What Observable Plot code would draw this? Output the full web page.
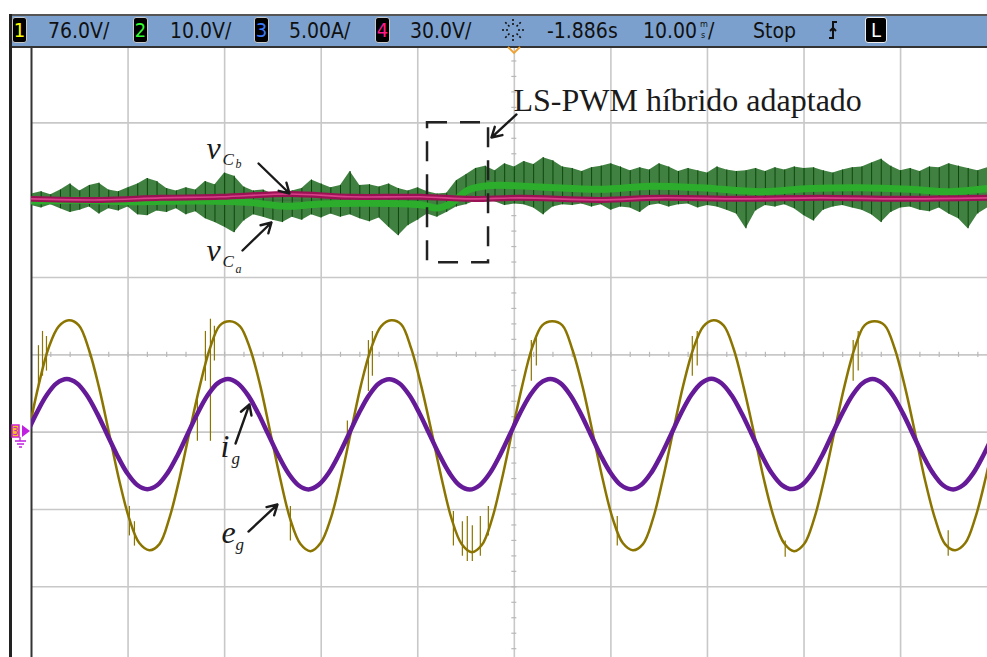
<!DOCTYPE html>
<html><head><meta charset="utf-8">
<script src="https://cdn.jsdelivr.net/npm/d3@7"></script>
<script src="https://cdn.jsdelivr.net/npm/@observablehq/plot@0.6"></script>
<style>
body{margin:0;background:#fff;}
#wrap{position:relative;width:987px;height:657px;overflow:hidden;background:#fff;}
#chart{position:absolute;left:0;top:0;}
#bar{position:absolute;left:10px;top:14px;width:977px;height:30px;background:#7ba0cd;border-top:2px solid #555;border-bottom:2px solid #333;}
#lborder{position:absolute;left:9px;top:14px;width:3px;height:643px;background:#222;}
.hd{position:absolute;top:16px;height:30px;line-height:30px;font-family:"DejaVu Sans Condensed","Liberation Sans Narrow","DejaVu Sans",sans-serif;font-size:21px;color:#111;white-space:nowrap;}
.sm{position:absolute;height:10px;line-height:10px;font-family:"DejaVu Sans Condensed","DejaVu Sans",sans-serif;font-size:9px;color:#111;}
.box{position:absolute;top:17px;width:13px;height:24px;background:#000;border:1.5px solid #c8c8c8;border-radius:3px;font-family:"DejaVu Sans Condensed","DejaVu Sans",sans-serif;font-size:20px;line-height:24px;text-align:center;}
</style></head>
<body>
<div id="wrap">
  <div id="chart"></div>
  <div id="bar"></div>
  <div id="lborder"></div>
  <div id="hdr"></div>
  <svg id="deco" width="987" height="657" style="position:absolute;left:0;top:0;pointer-events:none"></svg>
</div>
<script>
// ---- header (oscilloscope status line) ----
const chanNames = ["1", "2", "3", "4"];
const chanScales = ["76.0V/", "10.0V/", "5.00A/", "30.0V/"];
const chanColors = ["#ffff00", "#33ff33", "#3a7cff", "#ff1a8c"];
const timeOffset = "-1.886s";
const timeScale = "10.00";
const runState = "Stop";

// ---- time base: ms, 10 ms/div; vertical in divisions ----
// e_g (channel 1, 76 V/div, reference at -1 div), 16 samples per 60 Hz cycle
const egT0 = -50.31, egDt = 1.0431;
const egV = [
  0, 46, 83, 104, 110, 105, 81, 44, -1, -47, -85, -109, -116, -110, -84, -45,
  1, 45, 82, 105, 109, 104, 82, 46, 0, -46, -86, -110, -117, -109, -85, -46,
  0, 46, 82, 104, 110, 106, 82, 45, 1, -45, -85, -110, -118, -111, -86, -46,
  0, 45, 83, 105, 109, 105, 81, 45, 0, -46, -85, -109, -116, -110, -85, -45,
  1, 46, 82, 104, 110, 105, 82, 44, 0, -46, -84, -109, -117, -110, -85, -46,
  0, 45, 82, 105, 109, 105, 82, 45, 0, -47, -85, -110, -116, -109, -84, -46,
  0
];
// i_g (channel 3, 5 A/div, reference at -1 div)
const igT0 = -50.52, igDt = 1.0431;
const igA = [
  -0.13, 1.23, 2.39, 3.16, 3.43, 3.16, 2.39, 1.23, -0.13, -1.49, -2.65, -3.42, -3.69, -3.42, -2.65, -1.49,
  -0.12, 1.24, 2.40, 3.17, 3.44, 3.15, 2.38, 1.22, -0.14, -1.50, -2.66, -3.43, -3.70, -3.41, -2.64, -1.48,
  -0.13, 1.22, 2.38, 3.15, 3.42, 3.16, 2.40, 1.24, -0.12, -1.48, -2.65, -3.44, -3.71, -3.43, -2.66, -1.50,
  -0.14, 1.23, 2.39, 3.16, 3.43, 3.17, 2.39, 1.23, -0.13, -1.49, -2.64, -3.42, -3.69, -3.42, -2.65, -1.49,
  -0.13, 1.24, 2.40, 3.17, 3.45, 3.16, 2.38, 1.22, -0.13, -1.50, -2.66, -3.42, -3.68, -3.41, -2.64, -1.49,
  -0.12, 1.23, 2.39, 3.16, 3.43, 3.15, 2.39, 1.23, -0.13, -1.49, -2.65, -3.43, -3.70, -3.42, -2.65, -1.49,
  -0.13
];
// noise spikes on e_g: time (ms), top (V), bottom (V)
const egSpikeT  = [-49.28,-48.86,-48.45,-39.86,-39.34,-32.82,-31.99,-31.47,-31.06,-23.19,-17.29,-15.11,-14.70,-6.31,-5.38,-4.87,-4.35,-3.52,-2.69,1.76,2.28,10.66,18.43,18.94,28.05,35.09,35.61,44.93];
const egSpikeHi = [85,99,94,-73,-88,35,99,111,104,-73,11,90,99,-78,-88,-83,-92,-83,-73,90,94,-83,94,99,-107,90,99,-97];
const egSpikeLo = [45,55,60,-102,-112,-9,50,-9,70,-107,-14,40,55,-112,-122,-127,-127,-122,-102,50,65,-112,55,65,-123,50,60,-122];

// v_Ca (channel 2, 10 V/div, reference at +2 div): envelope sampled every 1 ms from -50 ms
const vcaHi = [0.8,1.1,0.7,1.3,2.1,1.2,1.9,2.2,1.3,1.1, 1.6,2.1,2.8,2.4,1.5,1.2,1.6,1.3,2.4,2.0,
  3.5,3.1,1.7,1.2,1.3,0.8,0.9,1.2,1.5,2.6, 2.1,1.6,1.9,3.7,1.9,2.0,1.7,2.1,1.5,1.2,
  1.6,1.1,0.8,0.9,2.5,3.3,4.1,4.4,3.8,4.7, 4.3,5.0,4.6,5.5,5.1,4.3,4.1,3.7,4.2,4.4,
  4.7,4.3,3.8,4.2,3.9,4.7,4.3,3.7,4.1,3.8, 3.5,4.3,3.9,3.7,3.8,4.1,3.7,4.2,3.9,4.3,
  4.1,4.2,3.8,3.5,3.9,4.2,4.3,4.8,5.3,4.4, 3.8,4.1,3.7,4.3,4.2,4.7,4.4,4.1,3.8,4.2];
const vcaLo = [-0.7,-1.0,-0.6,-1.1,-1.6,-1.3,-0.9,-1.8,-1.1,-1.4, -0.9,-1.9,-2.0,-1.4,-1.6,-1.1,-1.9,-1.5,-2.4,-2.9,
  -3.5,-4.2,-2.7,-1.9,-2.2,-2.6,-2.9,-2.2,-2.6,-1.9, -2.3,-1.8,-2.2,-1.9,-2.4,-2.8,-2.3,-3.5,-4.6,-3.3,
  -2.6,-1.8,-2.2,-1.6,-0.9,-0.6,-0.1,0.0,-0.2,-0.7, -0.5,-0.6,-1.0,-1.9,-0.9,-0.6,-0.7,-0.5,-0.9,-0.6,
  -1.3,-0.9,-1.0,-1.6,-0.7,-0.5,-0.9,-0.6,-0.5,-1.0, -0.7,-0.9,-1.3,-1.8,-3.7,-1.4,-0.7,-0.9,-0.6,-1.1,
  -2.0,-2.7,-1.3,-0.9,-0.7,-1.0,-1.3,-1.9,-2.9,-1.6, -1.0,-0.9,-1.3,-1.5,-1.0,-1.8,-2.4,-3.7,-1.8,-1.0];
const vcaMidT = [-50,-44.9,-39.8,-32.5,-27.3,-23.7,-20.1,-14.9,-9.7,-7.9,-6.4,-4.8,-2.5,2.7,8.9,14.1,19.3,25.5,30.6,35.8,41.0,45.1,49.0];
const vcaMidV = [-0.1,0.0,-0.2,-0.1,-0.3,-0.8,-0.5,-0.4,-0.6,-1.0,-0.3,1.3,1.9,1.7,1.4,1.8,1.6,1.1,1.5,1.6,1.4,1.1,1.5];
// v_Cb (channel 4, 30 V/div, reference at +2 div)
const vcbT = [-50,-42.8,-36.6,-30.4,-23.2,-17.0,-9.7,-4.5,0.6,8.9,15.1,23.4,31.7,39.9,49.0];
const vcbV = [0.5,0.1,0.9,1.3,2.4,1.3,1.3,0.5,0.9,0.1,0.9,0.5,0.9,0.5,0.9];

// grid
const gridT = [-40, -30, -20, -10, 0, 10, 20, 30, 40];
const gridD = [-3, -2, -1, 0, 1, 2, 3];

// annotations (data units: ms, divisions)
const labelLS = "LS-PWM híbrido adaptado";
const arrows = [
  {x1: 0.22, y1: 3.108, x2: -2.37, y2: 2.81},
  {x1: -26.49, y1: 2.474, x2: -23.28, y2: 2.086},
  {x1: -28.15, y1: 1.349, x2: -25.15, y2: 1.711},
  {x1: -28.87, y1: -1.147, x2: -27.43, y2: -0.642},
  {x1: -27.53, y1: -2.285, x2: -24.53, y2: -1.936}
];
const mathLabels = [
  {x: -31.88, y: 2.671, s: "v", f: 32}, {x: -30.22, y: 2.531, s: "C", f: 17}, {x: -28.88, y: 2.472, s: "b", f: 12},
  {x: -31.88, y: 1.352, s: "v", f: 32}, {x: -30.22, y: 1.200, s: "C", f: 17}, {x: -28.88, y: 1.114, s: "a", f: 12},
  {x: -30.43, y: -1.195, s: "i", f: 32}, {x: -29.29, y: -1.335, s: "g", f: 17},
  {x: -30.32, y: -2.295, s: "e", f: 32}, {x: -28.88, y: -2.447, s: "g", f: 17}
];
const dashBox = [{x1: -8.99, x2: -2.67, y1: 1.19, y2: 3.0}];

// ---- build tables ----
const eg = egV.map((v, i) => ({t: egT0 + i * egDt, v}));
const ig = igA.map((a, i) => ({t: igT0 + i * igDt, a}));
const egSp = egSpikeT.map((t, i) => ({t, hi: egSpikeHi[i], lo: egSpikeLo[i]}));
const vca = vcaHi.map((h, i) => ({t: -50 + i, hi: h, lo: vcaLo[i]}));
const vcaMid = vcaMidT.map((t, i) => ({t, v: vcaMidV[i]}));
const vcb = vcbT.map((t, i) => ({t, v: vcbV[i]}));
const minorT = d3.range(-50, 49.01, 2);
const minorD = d3.range(-3.8, 4.0, 0.2);

const serif = "'Liberation Serif','DejaVu Serif',serif";
const chart = Plot.plot({
  width: 987, height: 657,
  marginLeft: 31, marginRight: 0, marginTop: 45, marginBottom: 0,
  x: {domain: [-50, 49], axis: null},
  y: {domain: [-3.914, 4], axis: null},
  style: {background: "transparent", overflow: "visible"},
  marks: [
    Plot.ruleX(gridT, {stroke: "#c8c8c8", strokeWidth: 1.6}),
    Plot.ruleY(gridD, {stroke: "#c8c8c8", strokeWidth: 1.6}),
    Plot.ruleX(minorT, {y1: -0.033, y2: 0.033, stroke: "#b8b8b8", strokeWidth: 1.2}),
    Plot.ruleY(minorD, {x1: -0.26, x2: 0.26, stroke: "#b8b8b8", strokeWidth: 1.2}),
    Plot.ruleX([-50], {stroke: "#333", strokeWidth: 2}),
    // v_Ca
    Plot.areaY(vca, {x: "t", y1: d => 2 + d.lo / 10, y2: d => 2 + d.hi / 10, fill: "#1f6a1f", fillOpacity: 0.85, clip: true}),
    Plot.ruleX(vca, {x: "t", y1: d => 2 + d.lo / 10, y2: d => 2 + d.hi / 10, stroke: "#0d470d", strokeWidth: 1, clip: true}),
    Plot.line(vcaMid, {x: "t", y: d => 2 + d.v / 10, stroke: "#2cae2c", strokeWidth: 7, curve: "catmull-rom", clip: true}),
    // v_Cb
    Plot.line(vcb, {x: "t", y: d => 2 + d.v / 30, stroke: "#9a1254", strokeWidth: 6, curve: "catmull-rom", clip: true}),
    Plot.line(vcb, {x: "t", y: d => 2 + d.v / 30, stroke: "#d8408a", strokeWidth: 1.6, curve: "catmull-rom", clip: true}),
    // e_g
    Plot.ruleX(egSp, {x: "t", y1: d => -1 + d.lo / 76, y2: d => -1 + d.hi / 76, stroke: "#8b7500", strokeWidth: 1.2, clip: true}),
    Plot.line(eg, {x: "t", y: d => -1 + d.v / 76, stroke: "#8b7500", strokeWidth: 2.5, curve: "catmull-rom", clip: true}),
    // i_g
    Plot.line(ig, {x: "t", y: d => -1 + d.a / 5, stroke: "#651a98", strokeWidth: 4.5, curve: "catmull-rom", clip: true}),
    // annotations
    Plot.rect(dashBox, {x1: "x1", x2: "x2", y1: "y1", y2: "y2", fill: "none", stroke: "#222", strokeWidth: 2.5, strokeDasharray: "20,13"}),
    Plot.arrow(arrows, {x1: "x1", y1: "y1", x2: "x2", y2: "y2", stroke: "#1a1a1a", strokeWidth: 2.4, headLength: 7}),
    Plot.text([labelLS], {x: -0.09, y: 3.292, text: d => d, textAnchor: "start", lineAnchor: "middle", fontSize: 32, fontFamily: serif, fill: "#1a1a1a"}),
    Plot.text(mathLabels, {x: "x", y: "y", text: "s", fontSize: "f", textAnchor: "start", lineAnchor: "middle", fontStyle: "italic", fontFamily: serif, fill: "#1a1a1a"})
  ]
});
document.getElementById("chart").appendChild(chart);

// header contents
const hdr = document.getElementById("hdr");
const boxX = [12, 133, 254, 375], txtX = [48, 170, 289, 410];
chanNames.forEach((n, i) => {
  const b = document.createElement("div");
  b.className = "box"; b.style.left = boxX[i] + "px"; b.style.color = chanColors[i]; b.textContent = n;
  hdr.appendChild(b);
  const t = document.createElement("div");
  t.className = "hd"; t.style.left = txtX[i] + "px"; t.textContent = chanScales[i];
  hdr.appendChild(t);
});
const addEl = (cls, x, y, txt) => { const t = document.createElement("div"); t.className = cls; t.style.left = x + "px"; if (y != null) t.style.top = y + "px"; t.textContent = txt; hdr.appendChild(t); return t; };
addEl("hd", 547, null, timeOffset);
addEl("hd", 643, null, timeScale);
addEl("sm", 700, 19, "m");
addEl("sm", 701, 30, "s");
addEl("hd", 708, null, "/");
addEl("hd", 753, null, runState);
const lb = document.createElement("div");
lb.className = "box"; lb.style.left = "865px"; lb.style.width = "20px"; lb.style.color = "#fff"; lb.style.borderColor = "#eee"; lb.textContent = "L";
hdr.appendChild(lb);

// small instrument glyphs
const deco = d3.select("#deco");
for (let k = 0; k < 8; k++) {
  const a = k * Math.PI / 4;
  deco.append("line").attr("x1", 513 + 5 * Math.cos(a)).attr("y1", 30 + 5 * Math.sin(a))
    .attr("x2", 513 + 11 * Math.cos(a)).attr("y2", 30 + 11 * Math.sin(a))
    .attr("stroke", "#111").attr("stroke-width", 1.6).attr("stroke-dasharray", "2,2");
}
deco.append("path").attr("d", "M837,22 H833 V38 H829 M830,31 L833,28 L836,31").attr("fill", "none").attr("stroke", "#111").attr("stroke-width", 2);
deco.append("path").attr("d", "M508,47 L514,53 L520,47").attr("fill", "none").attr("stroke", "#f0a030").attr("stroke-width", 1.8);
deco.append("rect").attr("x", 12).attr("y", 425).attr("width", 7).attr("height", 12).attr("fill", "#f0c020").attr("stroke", "#d020d0").attr("stroke-width", 1.5);
deco.append("text").attr("x", 15.5).attr("y", 435).attr("text-anchor", "middle").attr("font-size", 10).attr("font-family", "DejaVu Sans").attr("fill", "#d020d0").text("3");
deco.append("path").attr("d", "M22,425 L30,431 L22,437 Z").attr("fill", "#c020e0");
deco.append("path").attr("d", "M20,437 V441 M15,441 H26 M17,444 H24 M19,447 H22").attr("stroke", "#c020e0").attr("stroke-width", 1.3).attr("fill", "none");
</script>
</body></html>
